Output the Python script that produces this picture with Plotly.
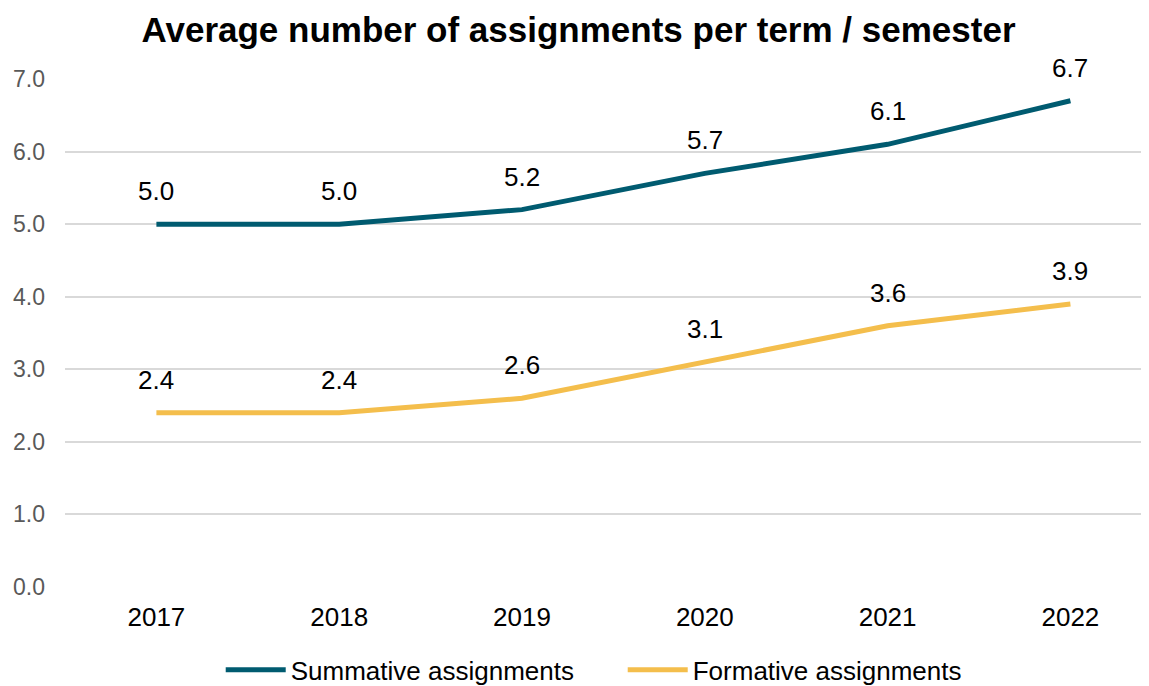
import plotly.graph_objects as go

years = ["2017", "2018", "2019", "2020", "2021", "2022"]
summative = [5.0, 5.0, 5.2, 5.7, 6.1, 6.7]
formative = [2.4, 2.4, 2.6, 3.1, 3.6, 3.9]
y_ticks = [0, 1, 2, 3, 4, 5, 6, 7]

TEAL = "#005B70"
GOLD = "#F4BE4C"
FONT = "Liberation Sans"

fig = go.Figure()
fig.add_trace(go.Scatter(x=years, y=summative, mode="lines", name="Summative assignments",
                         line=dict(color=TEAL, width=5)))
fig.add_trace(go.Scatter(x=years, y=formative, mode="lines", name="Formative assignments",
                         line=dict(color=GOLD, width=5)))

annotations = []
for series in (summative, formative):
    for i, v in enumerate(series):
        annotations.append(dict(x=i, y=v, xref="x", yref="y", text=f"{v:.1f}",
                                showarrow=False, yshift=33,
                                font=dict(family=FONT, size=26, color="#000000")))

fig.update_layout(
    template="none",
    width=1141, height=678,
    paper_bgcolor="white", plot_bgcolor="white",
    margin=dict(l=57, r=0, t=71, b=99, autoexpand=False),
    annotations=annotations,
    title=dict(text="<b>Average number of assignments per term / semester</b>",
               x=0.5, xanchor="center", y=0.968, yanchor="middle", pad=dict(t=0, b=0),
               font=dict(family=FONT, size=35, color="#000000")),
    font=dict(family=FONT),
    showlegend=True,
    legend=dict(orientation="h", x=0.5145, xanchor="center", y=-0.163, yanchor="middle",
                font=dict(family=FONT, size=26, color="#000000"),
                itemwidth=60, tracegroupgap=0, entrywidth=327, entrywidthmode="pixels"),
    xaxis=dict(type="category", range=[-0.5, 5.43], showgrid=False, showline=False,
               automargin=False,
               ticks="", tickfont=dict(family=FONT, size=26, color="#000000"),
               ticklabelstandoff=12),
    yaxis=dict(range=[0, 7], tickvals=y_ticks, tickformat=".1f", automargin=False,
               showgrid=True, gridcolor="#D9D9D9", gridwidth=2,
               zeroline=False, showline=False, ticks="",
               tickfont=dict(family=FONT, size=23, color="#595959"),
               ticklabelstandoff=19),
)

fig.write_html("out.html")
